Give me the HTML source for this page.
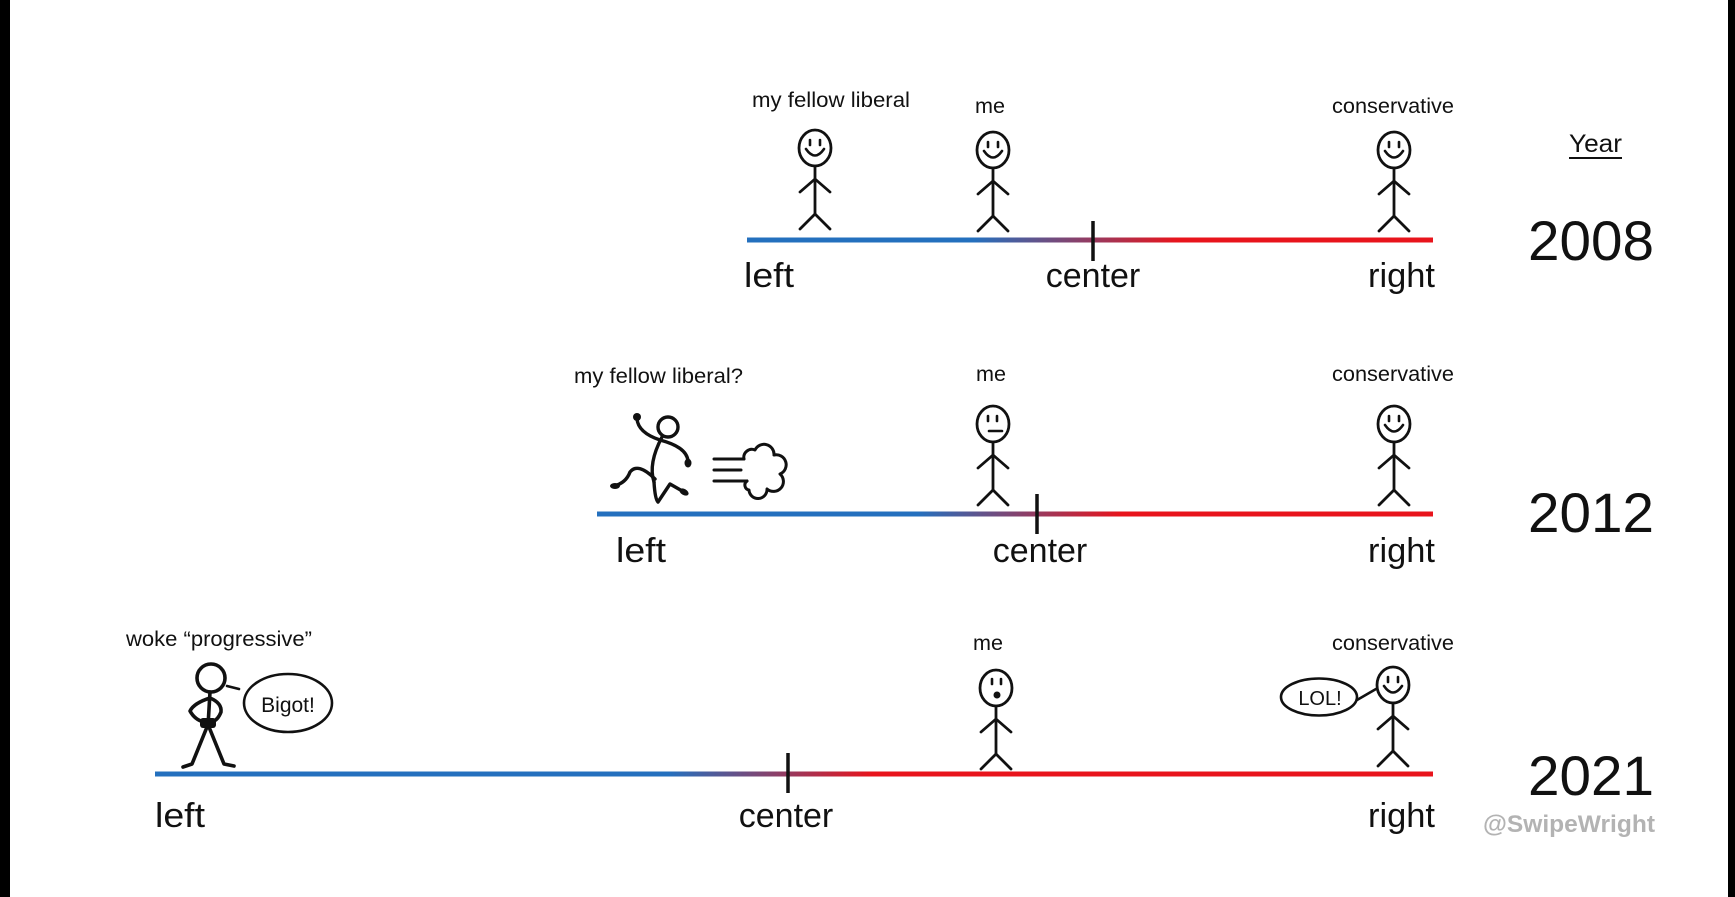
<!DOCTYPE html>
<html>
<head>
<meta charset="utf-8">
<style>
html,body{margin:0;padding:0;background:#fff;}
svg{display:block;}
text{font-family:"Liberation Sans",sans-serif;fill:#111;}
</style>
</head>
<body>
<svg width="1735" height="897" viewBox="0 0 1735 897" xmlns="http://www.w3.org/2000/svg">
<defs>
  <linearGradient id="g1" gradientUnits="userSpaceOnUse" x1="973" y1="0" x2="1178" y2="0">
    <stop offset="0" stop-color="#2470be"/><stop offset="1" stop-color="#e8141c"/>
  </linearGradient>
  <linearGradient id="g2" gradientUnits="userSpaceOnUse" x1="917" y1="0" x2="1122" y2="0">
    <stop offset="0" stop-color="#2470be"/><stop offset="1" stop-color="#e8141c"/>
  </linearGradient>
  <linearGradient id="g3" gradientUnits="userSpaceOnUse" x1="668" y1="0" x2="873" y2="0">
    <stop offset="0" stop-color="#2470be"/><stop offset="1" stop-color="#e8141c"/>
  </linearGradient>
  <g id="fig" fill="none" stroke="#111" stroke-width="2.8" stroke-linecap="round" stroke-linejoin="round">
    <ellipse cx="0" cy="0" rx="16" ry="18"/>
    <line x1="0" y1="18" x2="0" y2="66"/>
    <polyline points="-15,44 0,31 15,44"/>
    <polyline points="-15,81 0,66 15,81"/>
  </g>
  <g id="smile" fill="none" stroke="#111" stroke-width="2.6" stroke-linecap="round">
    <line x1="-5" y1="-8" x2="-5" y2="-3"/>
    <line x1="5" y1="-8" x2="5" y2="-3"/>
    <path d="M-9,1 Q0,14 9,1"/>
  </g>
</defs>

<!-- black edge bars -->
<rect x="0" y="0" width="10" height="897" fill="#000"/>
<rect x="1728" y="0" width="7" height="897" fill="#000"/>

<!-- ================= ROW 1 : 2008 ================= -->
<rect x="747" y="237.5" width="686" height="5" fill="url(#g1)"/>
<line x1="1093" y1="221" x2="1093" y2="261" stroke="#111" stroke-width="3.5"/>
<text x="744" y="287" font-size="34" textLength="50" lengthAdjust="spacingAndGlyphs">left</text>
<text x="1093" y="287" font-size="34" text-anchor="middle">center</text>
<text x="1368" y="287" font-size="34" textLength="67" lengthAdjust="spacingAndGlyphs">right</text>

<text x="752" y="107" font-size="21" textLength="158" lengthAdjust="spacingAndGlyphs">my fellow liberal</text>
<text x="975" y="113" font-size="21" textLength="30" lengthAdjust="spacingAndGlyphs">me</text>
<text x="1332" y="113" font-size="21" textLength="122" lengthAdjust="spacingAndGlyphs">conservative</text>

<use href="#fig" x="815" y="148"/><use href="#smile" x="815" y="148"/>
<use href="#fig" x="993" y="150"/><use href="#smile" x="993" y="150"/>
<use href="#fig" x="1394" y="150"/><use href="#smile" x="1394" y="150"/>

<text x="1569" y="152" font-size="25" textLength="53" lengthAdjust="spacingAndGlyphs">Year</text>
<line x1="1569" y1="158" x2="1622" y2="158" stroke="#111" stroke-width="2"/>
<text x="1528" y="260" font-size="56" textLength="126" lengthAdjust="spacingAndGlyphs">2008</text>

<!-- ================= ROW 2 : 2012 ================= -->
<rect x="597" y="511.5" width="836" height="5" fill="url(#g2)"/>
<line x1="1037" y1="494" x2="1037" y2="534" stroke="#111" stroke-width="3.5"/>
<text x="616" y="562" font-size="34" textLength="50" lengthAdjust="spacingAndGlyphs">left</text>
<text x="1040" y="562" font-size="34" text-anchor="middle">center</text>
<text x="1368" y="562" font-size="34" textLength="67" lengthAdjust="spacingAndGlyphs">right</text>

<text x="574" y="383" font-size="21" textLength="169" lengthAdjust="spacingAndGlyphs">my fellow liberal?</text>
<text x="976" y="381" font-size="21" textLength="30" lengthAdjust="spacingAndGlyphs">me</text>
<text x="1332" y="381" font-size="21" textLength="122" lengthAdjust="spacingAndGlyphs">conservative</text>

<!-- running figure -->
<g fill="none" stroke="#111" stroke-width="3.4" stroke-linecap="round" stroke-linejoin="round">
  <circle cx="668" cy="427" r="10"/>
  <path d="M660,440 C648,436 638,430 637,419"/>
  <path d="M660,440 C675,444 687,450 688,461"/>
  <path d="M662,437 C652,456 650,470 654,482"/>
  <path d="M655,479 Q638,462 630,472 Q626,483 614,486"/>
  <path d="M654,482 Q655,499 658,502 L670,484 Q677,488 684,492"/>
</g>
<circle cx="637" cy="417" r="4" fill="#111"/>
<ellipse cx="688" cy="463" rx="3.5" ry="4.5" fill="#111"/>
<ellipse cx="615" cy="486" rx="5" ry="3" fill="#111"/>
<ellipse cx="684" cy="492" rx="5" ry="3" fill="#111" transform="rotate(30 684 492)"/>

<!-- speed lines + cloud -->
<g fill="none" stroke="#111" stroke-width="3" stroke-linecap="round" stroke-linejoin="round">
  <line x1="714" y1="459" x2="744" y2="459"/>
  <line x1="714" y1="470" x2="741" y2="470"/>
  <line x1="714" y1="481" x2="747" y2="481"/>
  <path d="M744,459 A8,8 0 0 1 755,450 A10,10 0 0 1 774,455 A10,10 0 0 1 780,474 A9,9 0 0 1 767,489 A9,9 0 0 1 749,490 A5,5 0 0 1 747,481"/>
</g>

<!-- me neutral -->
<use href="#fig" x="993" y="424"/>
<g fill="none" stroke="#111" stroke-width="2.6" stroke-linecap="round">
  <line x1="988" y1="416" x2="988" y2="421"/>
  <line x1="997" y1="416" x2="997" y2="421"/>
  <line x1="989" y1="431" x2="1002" y2="431"/>
</g>
<use href="#fig" x="1394" y="424"/><use href="#smile" x="1394" y="424"/>

<text x="1528" y="532" font-size="56" textLength="126" lengthAdjust="spacingAndGlyphs">2012</text>

<!-- ================= ROW 3 : 2021 ================= -->
<rect x="155" y="771.5" width="1278" height="5" fill="url(#g3)"/>
<line x1="788" y1="753" x2="788" y2="793" stroke="#111" stroke-width="3.5"/>
<text x="155" y="827" font-size="34" textLength="50" lengthAdjust="spacingAndGlyphs">left</text>
<text x="786" y="827" font-size="34" text-anchor="middle">center</text>
<text x="1368" y="827" font-size="34" textLength="67" lengthAdjust="spacingAndGlyphs">right</text>

<text x="126" y="646" font-size="21" textLength="186" lengthAdjust="spacingAndGlyphs">woke “progressive”</text>
<text x="973" y="650" font-size="21" textLength="30" lengthAdjust="spacingAndGlyphs">me</text>
<text x="1332" y="650" font-size="21" textLength="122" lengthAdjust="spacingAndGlyphs">conservative</text>

<!-- woke figure -->
<g fill="none" stroke="#111" stroke-width="3.6" stroke-linecap="round" stroke-linejoin="round">
  <circle cx="211" cy="678" r="14"/>
  <line x1="210" y1="692" x2="208" y2="726"/>
  <path d="M210,698 Q194,703 190,711 Q195,720 204,722"/>
  <path d="M210,698 Q222,703 221,712 Q218,720 212,722"/>
  <polyline points="207,727 192,764 183,767"/>
  <polyline points="209,727 224,764 234,766"/>
  <line x1="227" y1="686" x2="239" y2="689" stroke-width="2.6"/>
</g>
<rect x="200" y="718" width="16" height="10" rx="3" fill="#111"/>
<ellipse cx="288" cy="703" rx="44" ry="29" fill="none" stroke="#111" stroke-width="2.6"/>
<text x="288" y="712" font-size="21" text-anchor="middle">Bigot!</text>

<!-- me surprised -->
<use href="#fig" x="996" y="688"/>
<g fill="none" stroke="#111" stroke-width="2.6" stroke-linecap="round">
  <line x1="992" y1="679" x2="992" y2="684"/>
  <line x1="1001" y1="679" x2="1001" y2="684"/>
</g>
<circle cx="997" cy="695" r="3.5" fill="#111"/>

<!-- conservative with LOL -->
<use href="#fig" x="1393" y="685"/><use href="#smile" x="1393" y="685"/>
<ellipse cx="1319" cy="697" rx="38" ry="18.5" fill="none" stroke="#111" stroke-width="2.6"/>
<line x1="1357" y1="700" x2="1376" y2="689" stroke="#111" stroke-width="2.6" stroke-linecap="round"/>
<text x="1320" y="705" font-size="20" text-anchor="middle">LOL!</text>

<text x="1528" y="795" font-size="56" textLength="126" lengthAdjust="spacingAndGlyphs">2021</text>
<text x="1483" y="832" font-size="24" font-weight="bold" style="fill:#b3b3b3" textLength="172" lengthAdjust="spacingAndGlyphs">@SwipeWright</text>
</svg>
</body>
</html>
